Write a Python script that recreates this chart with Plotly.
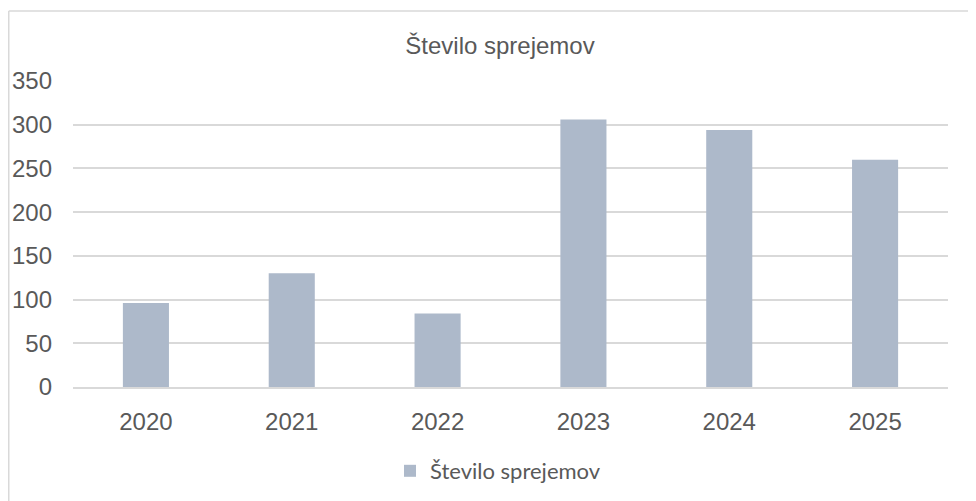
import plotly.graph_objects as go

years = ["2020", "2021", "2022", "2023", "2024", "2025"]
values = [96, 130, 84, 306, 294, 260]
series_name = "Število sprejemov"
title_text = "Število sprejemov"
y_ticks = [0, 50, 100, 150, 200, 250, 300, 350]

W, H = 976, 501
L, R, T, B = 65, 36, 73, 122
plot_w = W - L - R
plot_h = H - T - B

fig = go.Figure()
fig.add_trace(go.Bar(
    x=years, y=values, name=series_name,
    marker=dict(color="#adb9ca", line=dict(width=0)),
    width=0.316, showlegend=True,
))

grid = "#d9d9d9"
fig.update_layout(
    width=W, height=H,
    margin=dict(l=L, r=R, t=T, b=B, autoexpand=False),
    paper_bgcolor="white", plot_bgcolor="white",
    title=dict(text=title_text, x=492 / W, xref="container", xanchor="center",
               y=1 - 38 / H, yref="container", yanchor="middle",
               font=dict(family="Liberation Sans, Arial, sans-serif", size=24, color="#595959")),
    showlegend=True,
    legend=dict(orientation="h", x=(490 - L) / plot_w, xanchor="center",
                y=(T + plot_h - 463) / plot_h,
                yanchor="middle", font=dict(family="Lato", size=22, color="#595959"),
                itemwidth=30, bgcolor="rgba(0,0,0,0)"),
    xaxis=dict(showgrid=False, showline=True, linecolor=grid, linewidth=1.5,
               ticks="", tickfont=dict(family="Liberation Sans, Arial, sans-serif", size=24, color="#595959"),
               ticklabelstandoff=12, zeroline=False),
    yaxis=dict(range=[0, 350], tickvals=y_ticks, showgrid=True, gridcolor=grid, gridwidth=1.5,
               zeroline=False, showline=False, ticks="",
               tickfont=dict(family="Liberation Sans, Arial, sans-serif", size=24, color="#595959"),
               ticklabelstandoff=20),
    bargap=0.684,
)

# chart-area border (left and top edges visible)
x0 = (0.75 - L) / plot_w
y0 = (T + plot_h - 3) / plot_h
fig.add_shape(type="line", xref="paper", yref="paper", x0=x0, x1=x0, y0=y0, y1=-1,
              line=dict(color=grid, width=1.5))
fig.add_shape(type="line", xref="paper", yref="paper", x0=x0, x1=1.2, y0=y0, y1=y0,
              line=dict(color=grid, width=1.5))

fig.write_html("out.html")
